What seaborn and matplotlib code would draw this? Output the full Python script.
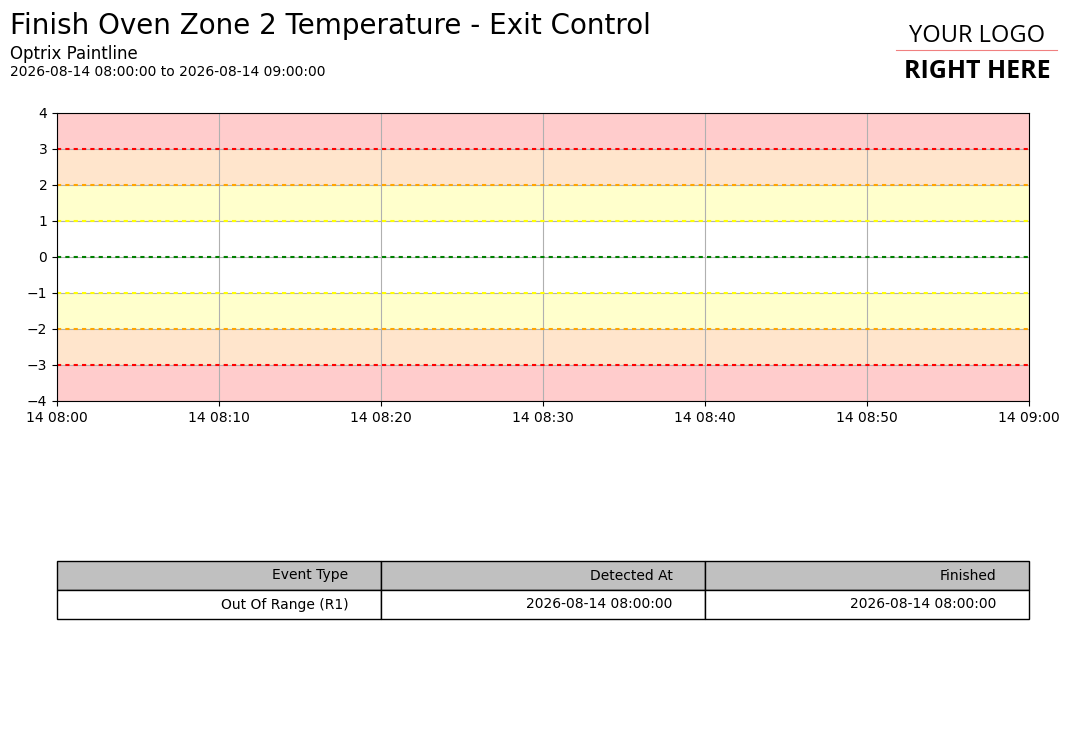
import pandas as pd
import seaborn as sns
import matplotlib.pyplot as plt
import matplotlib.dates as mdates
import numpy as np

# Time range
start = pd.Timestamp('2026-08-14 08:00:00')
end = pd.Timestamp('2026-08-14 09:00:00')

# Limit levels and colours
limit_levels = [3, 2, 1, 0, -1, -2, -3]
limit_colors = ['red', 'orange', 'yellow', 'green', 'yellow', 'orange', 'red']

# Shaded bands (low, high, colour)
band_lows = [3, 2, 1, -2, -3, -4]
band_highs = [4, 3, 2, -1, -2, -3]
band_colors = ['#ffcccc', '#ffe5cc', '#ffffcc', '#ffffcc', '#ffe5cc', '#ffcccc']

# Event table
table_header = ['Event Type', 'Detected At', 'Finished']
table_rows = [['Out Of Range (R1)', '2026-08-14 08:00:00', '2026-08-14 08:00:00']]

fig = plt.figure(figsize=(10.73, 7.44), dpi=100)
ax = fig.add_axes([57 / 1073, 1 - 401 / 744, (1029 - 57) / 1073, (401 - 113) / 744])

for lo, hi, c in zip(band_lows, band_highs, band_colors):
    ax.axhspan(lo, hi, color=c, zorder=0, lw=0)

ax.grid(True, color='#b0b0b0', lw=0.8, zorder=1)

df_lim = pd.DataFrame({
    'time': [start, end] * len(limit_levels),
    'value': np.repeat(limit_levels, 2),
    'limit': np.repeat(range(len(limit_levels)), 2),
})
sns.lineplot(data=df_lim, x='time', y='value', hue='limit',
             palette=limit_colors, linestyle=(0, (2, 2)), lw=1.5,
             legend=False, ax=ax, zorder=2)

ax.set_xlim(start, end)
ax.set_ylim(-4, 4)
ax.xaxis.set_major_locator(mdates.MinuteLocator(byminute=range(0, 60, 10)))
ax.xaxis.set_major_formatter(mdates.DateFormatter('%d %H:%M'))
ax.set_xlabel('')
ax.set_ylabel('')
ax.tick_params(labelsize=10)

# Titles
fig.text(10 / 1073, 1 - 26 / 744, 'Finish Oven Zone 2 Temperature - Exit Control',
         fontsize=20, va='center', ha='left')
fig.text(10 / 1073, 1 - 54 / 744, 'Optrix Paintline', fontsize=12, va='center', ha='left')
fig.text(10 / 1073, 1 - 72 / 744, '2026-08-14 08:00:00 to 2026-08-14 09:00:00',
         fontsize=10, va='center', ha='left')

# Logo placeholder
fig.text(977 / 1073, 1 - 36 / 744, 'YOUR LOGO', fontsize=17, ha='center', va='center',
         family='Open Sans', stretch='semi-condensed')
fig.add_artist(plt.Line2D([896 / 1073, 1057 / 1073], [1 - 50 / 744, 1 - 50 / 744],
                          color='#f08080', lw=0.8))
fig.text(977 / 1073, 1 - 71 / 744, 'RIGHT HERE', fontsize=18, ha='center', va='center',
         family='Open Sans', weight='bold')

# Event table
tax = fig.add_axes([57 / 1073, 1 - 619 / 744, (1029 - 57) / 1073, 58 / 744])
tax.axis('off')
tbl = tax.table(cellText=table_rows, colLabels=table_header, cellLoc='right',
                colLoc='right', loc='center', bbox=[0, 0, 1, 1])
tbl.auto_set_font_size(False)
tbl.set_fontsize(10)
for (r, c), cell in tbl.get_celld().items():
    if r == 0:
        cell.set_facecolor('#c0c0c0')
    cell.PAD = 0.1

fig.savefig('out.png', dpi=100)
